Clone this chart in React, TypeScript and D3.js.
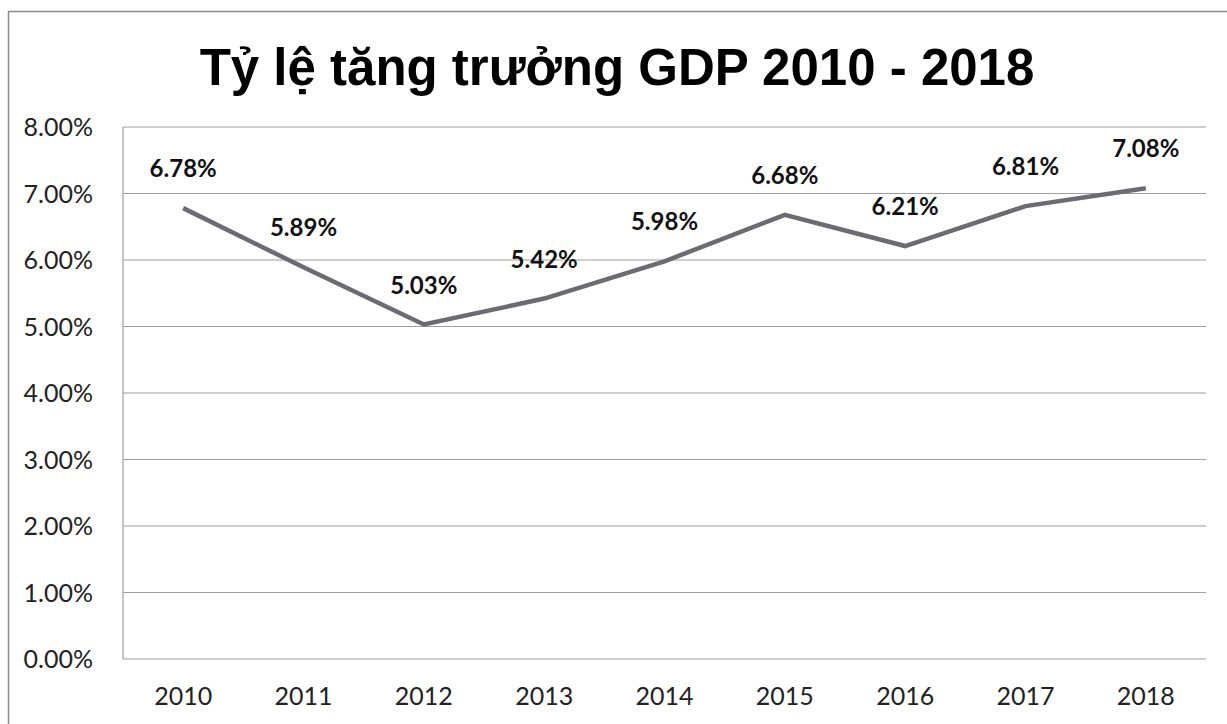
import React from "react";
import * as d3 from "d3";

const years = ["2010", "2011", "2012", "2013", "2014", "2015", "2016", "2017", "2018"];
const growth = [6.78, 5.89, 5.03, 5.42, 5.98, 6.68, 6.21, 6.81, 7.08];
const yTicks = [0, 1, 2, 3, 4, 5, 6, 7, 8];
const title = "Tỷ lệ tăng trưởng GDP 2010 - 2018";

const W = 1227;
const H = 724;
const plot = { left: 123, right: 1206, top: 127, bottom: 659 };

export default function App() {
  const x = d3.scaleBand<string>().domain(years).range([plot.left, plot.right]);
  const y = d3.scaleLinear().domain([0, 8]).range([plot.bottom, plot.top]);
  const cx = (d: string) => (x(d) ?? 0) + x.bandwidth() / 2;
  const line = d3
    .line<number>()
    .x((_, i) => cx(years[i]))
    .y((v) => y(v));
  const font = "Lato, 'Open Sans', sans-serif";

  return (
    <svg
      width={W}
      height={H}
      style={{ position: "fixed", left: 0, top: 0, background: "#fff" }}
    >
      <rect x={0} y={0} width={W} height={H} fill="#fff" />
      {/* chart frame */}
      <rect x={8.5} y={11.5} width={W + 20} height={H + 20} fill="none" stroke="#8a8a8a" strokeWidth={1.5} />
      <text
        x={617}
        y={85}
        textAnchor="middle"
        fontFamily="'Liberation Sans', Arial, sans-serif"
        fontWeight="bold"
        fontSize={51}
        fill="#000"
      >
        {title}
      </text>
      {/* gridlines */}
      {yTicks.map((t) => (
        <g key={t}>
          <line x1={plot.left} x2={plot.right} y1={y(t)} y2={y(t)} stroke="#a0a0a0" strokeWidth={1.2} />
          <text
            x={93}
            y={y(t)}
            dy="0.36em"
            textAnchor="end"
            fontFamily={font}
            fontSize={25}
            fill="#222"
          >
            {t.toFixed(2)}%
          </text>
        </g>
      ))}
      <line x1={plot.left} x2={plot.left} y1={plot.top} y2={plot.bottom} stroke="#a0a0a0" strokeWidth={1.2} />
      {/* x labels */}
      {years.map((yr) => (
        <text
          key={yr}
          x={cx(yr)}
          y={705}
          textAnchor="middle"
          fontFamily={font}
          fontSize={25}
          fill="#222"
        >
          {yr}
        </text>
      ))}
      {/* series line */}
      <path
        d={line(growth) ?? ""}
        fill="none"
        stroke="#6c6b72"
        strokeWidth={4.5}
        strokeLinejoin="miter"
        strokeLinecap="butt"
      />
      {/* data labels */}
      {growth.map((v, i) => (
        <text
          key={i}
          x={cx(years[i])}
          y={y(v) - 31}
          textAnchor="middle"
          fontFamily={font}
          fontWeight="bold"
          fontSize={24}
          fill="#111"
        >
          {v.toFixed(2)}%
        </text>
      ))}
    </svg>
  );
}
